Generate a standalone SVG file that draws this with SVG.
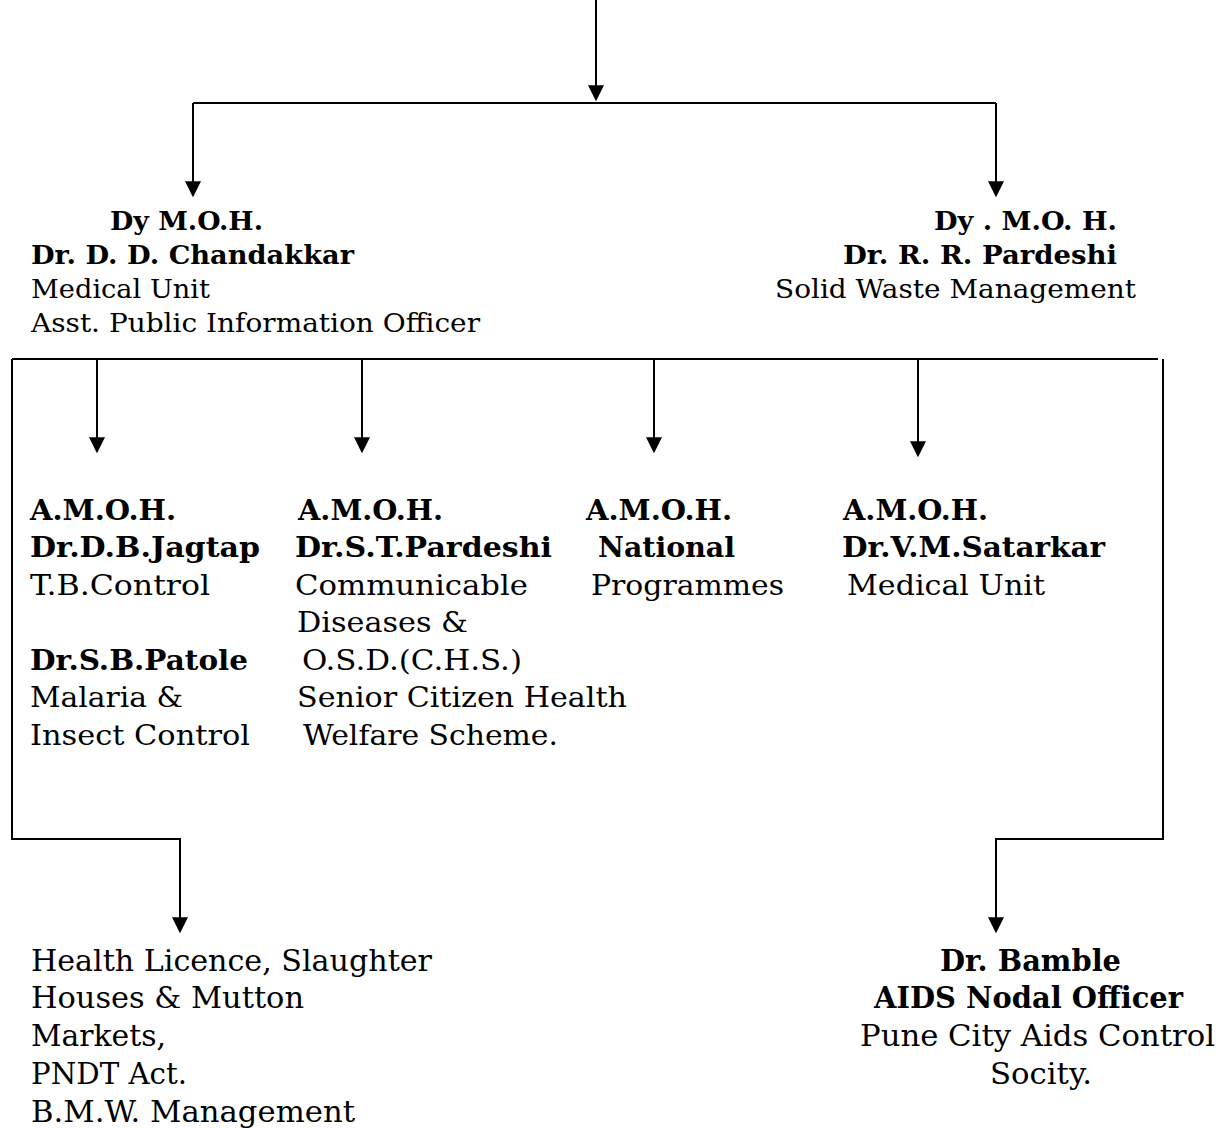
<svg xmlns="http://www.w3.org/2000/svg" width="1228" height="1128" viewBox="0 0 1228 1128">
<style>
text{font-family:"DejaVu Serif","Liberation Serif",serif;fill:#000}
.t{font-size:26.5px}
.m{font-size:28px}
.w{font-size:29px}
.b{font-weight:bold}
.c{fill:none;stroke:#000;stroke-width:2}
.a{marker-end:url(#ah)}
</style>
<defs>
<marker id="ah" markerUnits="userSpaceOnUse" markerWidth="16" markerHeight="16" viewBox="0 0 15 15" refX="10" refY="7.5" orient="auto">
<path d="M0,0 L15,7.5 L0,15 z" fill="#000"/>
</marker>
</defs>
<rect width="1228" height="1128" fill="#fff"/>
<g id="connectors">
<path class="c a" d="M596,0 V96"/>
<path class="c" d="M193,103 H996"/>
<path class="c a" d="M193,103 V192"/>
<path class="c a" d="M996,103 V192"/>
<path class="c" d="M12,359 H1158"/>
<path class="c a" d="M97,358 V448"/>
<path class="c a" d="M362,358 V448"/>
<path class="c a" d="M654,358 V448"/>
<path class="c a" d="M918,360 V452"/>
<path class="c a" d="M12,359 V839 H180 V928"/>
<path class="c a" d="M1163,359 V839 H996 V928"/>
</g>
<g id="dy-moh-chandakkar" class="t">
<text class="b" x="110" y="230" textLength="153" lengthAdjust="spacingAndGlyphs">Dy M.O.H.</text>
<text class="b" x="31" y="264" textLength="323" lengthAdjust="spacingAndGlyphs">Dr. D. D. Chandakkar</text>
<text x="31" y="298" textLength="179" lengthAdjust="spacingAndGlyphs">Medical Unit</text>
<text x="31" y="332" textLength="449" lengthAdjust="spacingAndGlyphs">Asst. Public Information Officer</text>
</g>
<g id="dy-moh-pardeshi" class="t">
<text class="b" x="934" y="230" textLength="183" lengthAdjust="spacingAndGlyphs">Dy . M.O. H.</text>
<text class="b" x="843" y="264" textLength="274" lengthAdjust="spacingAndGlyphs">Dr. R. R. Pardeshi</text>
<text x="775" y="298" textLength="361" lengthAdjust="spacingAndGlyphs">Solid Waste Management</text>
</g>
<g id="amoh-jagtap" class="m">
<text class="b" x="30" y="520" textLength="146" lengthAdjust="spacingAndGlyphs">A.M.O.H.</text>
<text class="b" x="30" y="557" textLength="230" lengthAdjust="spacingAndGlyphs">Dr.D.B.Jagtap</text>
<text x="30" y="595" textLength="180" lengthAdjust="spacingAndGlyphs">T.B.Control</text>
<text class="b" x="30" y="670" textLength="218" lengthAdjust="spacingAndGlyphs">Dr.S.B.Patole</text>
<text x="30" y="707" textLength="153" lengthAdjust="spacingAndGlyphs">Malaria &amp;</text>
<text x="30" y="745" textLength="220" lengthAdjust="spacingAndGlyphs">Insect Control</text>
</g>
<g id="amoh-st-pardeshi" class="m">
<text class="b" x="298" y="520" textLength="145" lengthAdjust="spacingAndGlyphs">A.M.O.H.</text>
<text class="b" x="295" y="557" textLength="257" lengthAdjust="spacingAndGlyphs">Dr.S.T.Pardeshi</text>
<text x="295" y="595" textLength="233" lengthAdjust="spacingAndGlyphs">Communicable</text>
<text x="297" y="632" textLength="171" lengthAdjust="spacingAndGlyphs">Diseases &amp;</text>
<text x="302" y="670" textLength="220" lengthAdjust="spacingAndGlyphs">O.S.D.(C.H.S.)</text>
<text x="297" y="707" textLength="330" lengthAdjust="spacingAndGlyphs">Senior Citizen Health</text>
<text x="303" y="745" textLength="255" lengthAdjust="spacingAndGlyphs">Welfare Scheme.</text>
</g>
<g id="amoh-national" class="m">
<text class="b" x="586" y="520" textLength="146" lengthAdjust="spacingAndGlyphs">A.M.O.H.</text>
<text class="b" x="598" y="557" textLength="137" lengthAdjust="spacingAndGlyphs">National</text>
<text x="591" y="595" textLength="193" lengthAdjust="spacingAndGlyphs">Programmes</text>
</g>
<g id="amoh-satarkar" class="m">
<text class="b" x="843" y="520" textLength="145" lengthAdjust="spacingAndGlyphs">A.M.O.H.</text>
<text class="b" x="842" y="557" textLength="263" lengthAdjust="spacingAndGlyphs">Dr.V.M.Satarkar</text>
<text x="847" y="595" textLength="198" lengthAdjust="spacingAndGlyphs">Medical Unit</text>
</g>
<g id="health-licence" class="w">
<text x="31" y="971" textLength="401" lengthAdjust="spacingAndGlyphs">Health Licence, Slaughter</text>
<text x="31" y="1008" textLength="273" lengthAdjust="spacingAndGlyphs">Houses &amp; Mutton</text>
<text x="31" y="1046" textLength="135" lengthAdjust="spacingAndGlyphs">Markets,</text>
<text x="31" y="1084" textLength="156" lengthAdjust="spacingAndGlyphs">PNDT Act.</text>
<text x="31" y="1122" textLength="324" lengthAdjust="spacingAndGlyphs">B.M.W. Management</text>
</g>
<g id="dr-bamble" class="w">
<text class="b" x="940" y="971" textLength="181" lengthAdjust="spacingAndGlyphs">Dr. Bamble</text>
<text class="b" x="874" y="1008" textLength="309" lengthAdjust="spacingAndGlyphs">AIDS Nodal Officer</text>
<text x="860" y="1046" textLength="355" lengthAdjust="spacingAndGlyphs">Pune City Aids Control</text>
<text x="990" y="1084" textLength="102" lengthAdjust="spacingAndGlyphs">Socity.</text>
</g>
</svg>
